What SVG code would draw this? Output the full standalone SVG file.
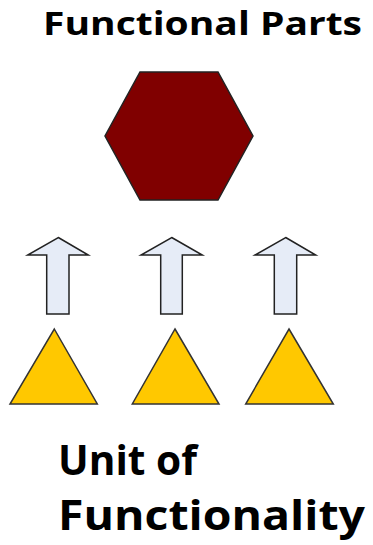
<svg xmlns="http://www.w3.org/2000/svg" width="373" height="545" viewBox="0 0 373 545">
<style>
.t{font-family:"Open Sans","Liberation Sans",sans-serif;font-weight:bold;fill:#000;font-variant-ligatures:none}
.arr{fill:#e6ecf7;stroke:#222;stroke-width:1.5;stroke-linejoin:miter}
.tri{fill:#ffc800;stroke:#333;stroke-width:1.5;stroke-linejoin:miter}
</style>
<rect width="373" height="545" fill="#fff"/>
<g id="title"><text class="t" x="43" y="35" font-size="32" textLength="319" lengthAdjust="spacingAndGlyphs">Functional Parts</text></g>
<g id="hexagon"><polygon points="140,72 218,72 253,136 218,200 140,200 105,136" fill="#800000" stroke="#222" stroke-width="1.5"/></g>
<g id="connectors">
<polygon class="arr" points="58.3,237.5 88.3,255 69,255 69,314 46.7,314 46.7,255 27.7,255"/>
<polygon class="arr" points="171.7,237.5 202.3,255 182.3,255 182.3,314 160.7,314 160.7,255 141,255"/>
<polygon class="arr" points="285.7,237.5 315.7,255 296.7,255 296.7,314 274.3,314 274.3,255 255,255"/>
</g>
<g id="unit1"><polygon class="tri" points="54.3,329 97.3,404 10,404"/></g>
<g id="unit2"><polygon class="tri" points="175,329 219,404 132.3,404"/></g>
<g id="unit3"><polygon class="tri" points="289,329 333.3,404 245.7,404"/></g>
<g id="label"><text class="t" x="58" y="475" font-size="41" textLength="139" lengthAdjust="spacingAndGlyphs">Unit of</text>
<text class="t" x="58" y="530" font-size="41" textLength="307" lengthAdjust="spacingAndGlyphs">Functionality</text></g>
</svg>
